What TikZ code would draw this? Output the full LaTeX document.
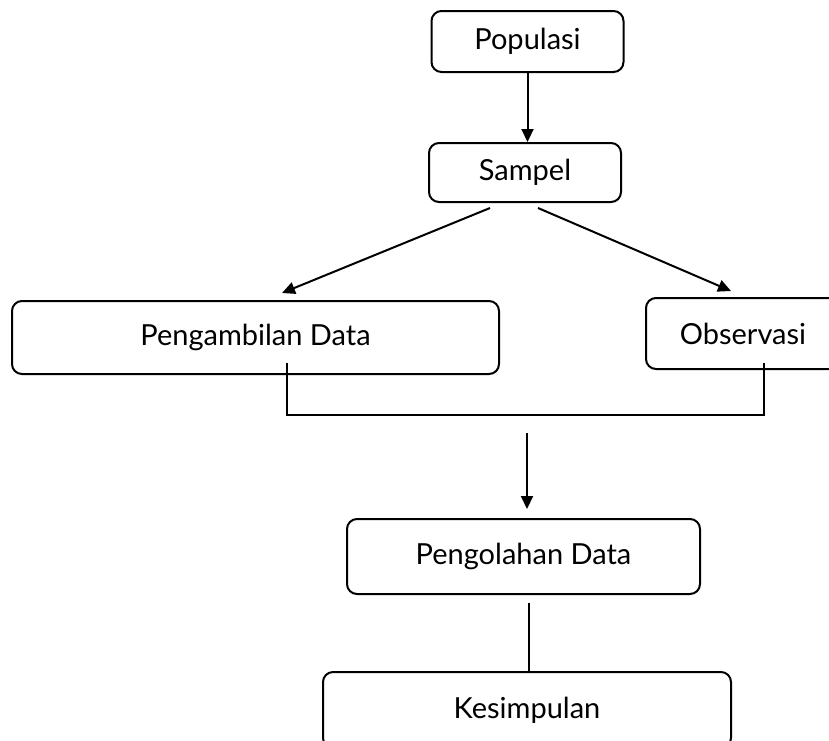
\documentclass[tikz,border=0pt]{standalone}
\usepackage{fontspec}
\setmainfont{Lato}
\usetikzlibrary{arrows.meta}
\begin{document}
\begin{tikzpicture}[x=1pt,y=-1pt,
  box/.style={draw,line width=2pt,rounded corners=10pt,inner sep=0pt,font=\fontsize{29}{34}\selectfont},
  conn/.style={line width=2pt},
  arr/.style={line width=2pt,-{Triangle[length=13pt,width=12pt]}}]
\clip (0,0) rectangle (829,740);
\useasboundingbox (0,0) rectangle (829,740);
\node[box,minimum width=192pt,minimum height=61pt] (pop) at (527.5,41.5) {Populasi};
\node[box,minimum width=192pt,minimum height=59pt] (sam) at (525,172.5) {Sampel};
\node[box,minimum width=487pt,minimum height=73pt] (ambil) at (255.5,337.5) {Pengambilan Data};
\node[box,minimum width=194pt,minimum height=71pt] (obs) at (743,333.5) {Observasi};
\node[box,minimum width=353pt,minimum height=75pt] (olah) at (523.5,556.5) {Pengolahan Data};
\node[box,minimum width=408pt,minimum height=76pt] (kes) at (527,710) {Kesimpulan};
\coordinate (s1) at (490,208);
\coordinate (s2) at (538,208);
\coordinate (t1) at (282,293);
\coordinate (t2) at (731,291);
\coordinate (a1) at (287,363);
\coordinate (o1) at (764,363);
\coordinate (j1) at (287,415);
\coordinate (j2) at (764,415);
\coordinate (d1) at (527,433);
\coordinate (d2) at (527,509);
\coordinate (k1) at (529,603);
\draw[arr] (pop.south) -- (pop.south |- sam.north);
\draw[arr] (s1) -- (t1);
\draw[arr] (s2) -- (t2);
\draw[conn] (a1) -- (j1) -- (j2) -- (o1);
\draw[arr] (d1) -- (d2);
\draw[conn] (k1) -- (k1 |- kes.north);
\end{tikzpicture}
\end{document}
